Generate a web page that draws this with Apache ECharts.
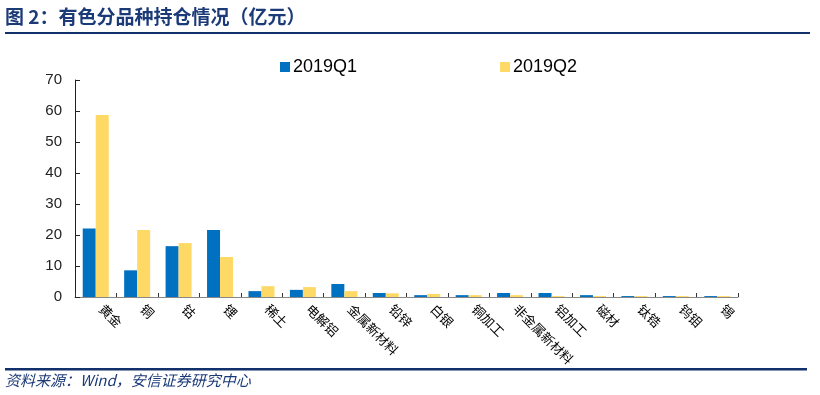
<!DOCTYPE html>
<html><head><meta charset="utf-8">
<script src="https://cdn.jsdelivr.net/npm/echarts@6/dist/echarts.min.js"></script>
<style>html,body{margin:0;padding:0;background:#fff}#c{width:820px;height:395px}</style>
</head><body><div id="c"></div>
<script>
const categories = ['黄金','铜','钴','锂','稀土','电解铝','金属新材料','铅锌','白银','铜加工','非金属新材料','铝加工','磁材','钛锆','钨钼','锡'];
const q1 = [22.1, 8.6, 16.4, 21.6, 1.9, 2.3, 4.2, 1.3, 0.6, 0.6, 1.3, 1.3, 0.6, 0.3, 0.3, 0.3];
const q2 = [58.7, 21.6, 17.4, 12.9, 3.5, 3.2, 1.9, 1.2, 1.0, 0.6, 0.6, 0.3, 0.3, 0.3, 0.3, 0.3];
const seriesNames = ['2019Q1','2019Q2'];
const yTicks = {min:0, max:70, interval:10};

const chart = echarts.init(document.getElementById('c'));
const navy = '#1b3a78';
chart.setOption({
  animation:false,
  backgroundColor:'#fff',
  grid:{left:75, right:82, top:80, bottom:98},
  legend:{
    left:275, top:53, itemWidth:10, itemHeight:10, itemGap:143,
    icon:'rect',
    textStyle:{fontFamily:'Liberation Sans, Arial', fontSize:18, color:'#000', padding:[0,0,0,-2]},
    data:seriesNames
  },
  xAxis:{
    type:'category', data:categories,
    axisLine:{lineStyle:{color:'#888', width:1}},
    axisTick:{show:true, inside:true, length:4, lineStyle:{color:'#333'}},
    axisLabel:{rotate:-45, interval:0, fontSize:13, color:'#000', margin:4, padding:[0,0,0,8], fontFamily:'Noto Sans CJK SC'}
  },
  yAxis:{
    type:'value', min:yTicks.min, max:yTicks.max, interval:yTicks.interval,
    splitLine:{show:false},
    axisLine:{show:true, lineStyle:{color:'#222'}},
    axisTick:{show:true, inside:true, length:5, lineStyle:{color:'#222'}},
    axisLabel:{fontSize:15, color:'#222', margin:13, fontFamily:'Liberation Sans, Arial'}
  },
  series:[
    {name:seriesNames[0], type:'bar', data:q1, barWidth:13, barGap:'0%', itemStyle:{color:'#0070c0'}},
    {name:seriesNames[1], type:'bar', data:q2, barWidth:13, barGap:'0%', itemStyle:{color:'#ffd966'}}
  ],
  graphic:[
    {type:'text', left:5, top:7, style:{text:'图 2：有色分品种持仓情况（亿元）', font:'bold 19px "Noto Sans CJK SC"', fill:navy}},
    {type:'rect', shape:{x:5, y:32, width:805, height:2}, style:{fill:'#12306b'}},
    {type:'rect', shape:{x:5, y:368, width:802, height:2.5}, style:{fill:'#12306b'}},
    {type:'text', left:5, top:373, style:{text:'资料来源：Wind，安信证券研究中心', font:'italic 15px "Noto Sans CJK SC"', fill:navy}}
  ]
});
</script></body></html>
